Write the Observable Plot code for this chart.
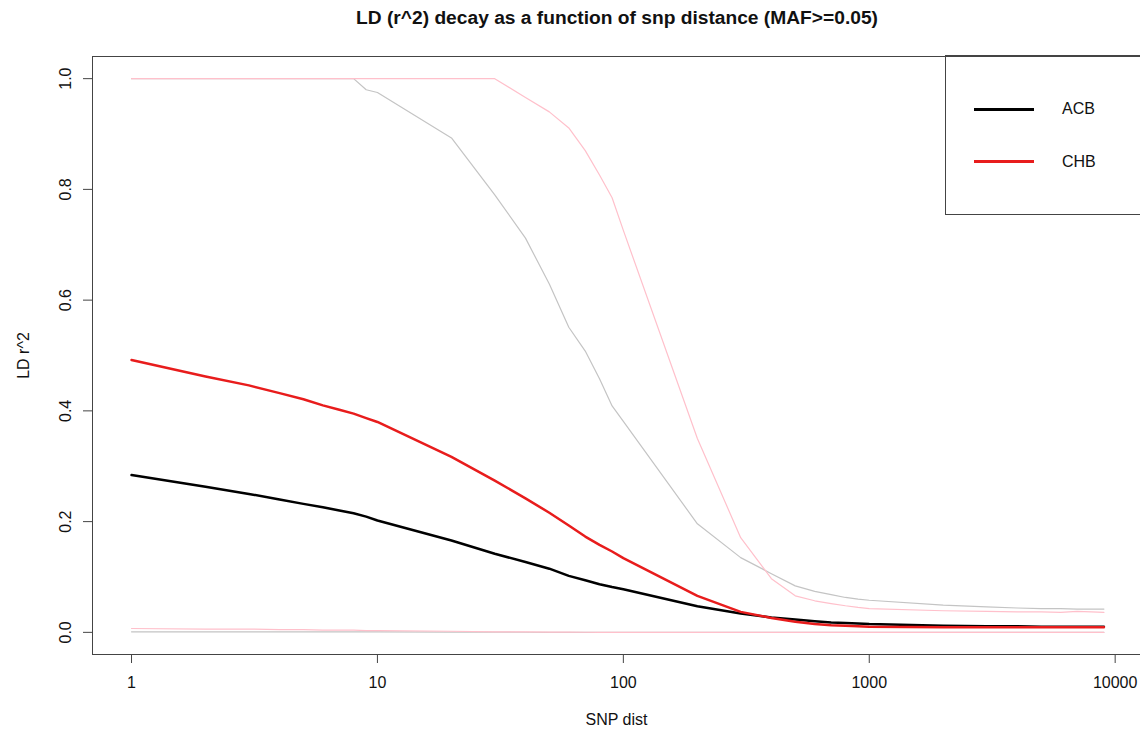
<!DOCTYPE html>
<html>
<head>
<meta charset="utf-8">
<script src="https://cdn.jsdelivr.net/npm/d3@7"></script>
<script src="https://cdn.jsdelivr.net/npm/@observablehq/plot@0.6"></script>
<style>
  html, body { margin: 0; padding: 0; background: #fff; overflow: hidden; }
  #wrap { position: relative; width: 1140px; height: 746px; font-family: "Liberation Sans", Arial, sans-serif; color: #111; }
  #title { position: absolute; top: 6px; left: 617px; transform: translateX(-50%); white-space: nowrap;
           font-weight: bold; font-size: 19.2px; line-height: 24px; color: #111; }
  #chart { position: absolute; top: 36px; left: 0; }
  #legend { position: absolute; left: 945px; top: 55px; width: 220px; height: 158px;
            border: 1px solid #444; box-sizing: content-box; }
  .sw { position: absolute; left: 28px; width: 60px; height: 3px; }
  .lab { position: absolute; left: 116px; font-size: 16px; line-height: 20px; color: #111; }
</style>
</head>
<body>
<div id="wrap">
  <div id="title">LD (r^2) decay as a function of snp distance (MAF&gt;=0.05)</div>
  <div id="chart"></div>
  <div id="legend"></div>
</div>
<script>
// SNP distances
const dist = [1,2,3,4,5,6,7,8,9,10,20,30,40,50,60,70,80,90,100,200,300,400,500,600,700,800,900,1000,2000,3000,4000,5000,6000,7000,8000,9000];
// ACB mean r^2
const acbMean = [0.284,0.263,0.250,0.240,0.232,0.226,0.220,0.215,0.209,0.202,0.166,0.142,0.127,0.115,0.102,0.094,0.087,0.082,0.078,0.047,0.034,0.027,0.023,0.020,0.018,0.017,0.016,0.015,0.012,0.011,0.011,0.010,0.010,0.010,0.010,0.010];
// CHB mean r^2
const chbMean = [0.492,0.462,0.446,0.432,0.421,0.410,0.402,0.395,0.387,0.380,0.317,0.274,0.242,0.216,0.193,0.173,0.158,0.146,0.134,0.066,0.037,0.026,0.019,0.015,0.013,0.012,0.011,0.010,0.009,0.009,0.009,0.009,0.009,0.009,0.009,0.009];
// ACB upper / lower bounds
const acbMax = [1,1,1,1,1,1,1,1,0.980,0.975,0.893,0.790,0.712,0.629,0.551,0.508,0.458,0.409,0.381,0.196,0.135,0.106,0.084,0.074,0.068,0.063,0.060,0.058,0.049,0.046,0.044,0.043,0.043,0.042,0.042,0.042];
const acbMin = [0.001,0.001,0.001,0.001,0.001,0.001,0.001,0.001,0.001,0.001,0.0005,0.0003,0.0002,0.0001,0,0,0,0,0,0,0,0,0,0,0,0,0,0,0,0,0,0,0,0,0,0];
// CHB upper / lower bounds
const chbMax = [1,1,1,1,1,1,1,1,1,1,1,1,0.966,0.940,0.911,0.870,0.826,0.785,0.726,0.350,0.171,0.097,0.066,0.057,0.052,0.048,0.045,0.043,0.039,0.038,0.037,0.037,0.036,0.038,0.037,0.036];
const chbMin = [0.007,0.006,0.006,0.005,0.005,0.004,0.004,0.004,0.003,0.003,0.002,0.001,0.001,0.0005,0.0003,0.0002,0.0001,0,0,0,0,0,0,0,0,0,0,0,0,0,0,0,0,0,0,0];
// axis ticks
const xTicks = [1,10,100,1000,10000];
const yTicks = [0,0.2,0.4,0.6,0.8,1.0];
const seriesNames = ["ACB","CHB"];
const seriesColors = ["#000000","#e81c1c"];

const xDomain = [Math.pow(10,-0.1587), Math.pow(10,4.1030)];
const yDomain = [-0.04, 1.04];

const ln = (arr, stroke, sw) => Plot.line(dist, {x: d => d, y: (d,i) => arr[i], stroke, strokeWidth: sw, curve: "linear"});

const chart = Plot.plot({
  width: 1140,
  height: 710,
  marginLeft: 92,
  marginRight: 0,
  marginTop: 20,
  marginBottom: 92,
  style: {fontFamily: '"Liberation Sans", Arial, sans-serif', fontSize: "16px", color: "#111", background: "#fff"},
  x: {type: "log", domain: xDomain, axis: null},
  y: {domain: yDomain, axis: null},
  marks: [
    Plot.axisX({ticks: xTicks, tickSize: 9, tickFormat: () => "", label: null, stroke: "#444"}),
    Plot.axisY({ticks: yTicks, tickSize: 9, tickFormat: () => "", label: null, stroke: "#444"}),
    Plot.ruleY([yDomain[0]], {stroke: "#444"}),
    Plot.ruleY([yDomain[1]], {stroke: "#444"}),
    Plot.ruleX([xDomain[0]], {stroke: "#444"}),
    Plot.text(xTicks, {x: d => d, frameAnchor: "bottom", dy: 28, text: d => String(d), lineAnchor: "middle", fill: "#111", fontSize: 16}),
    Plot.text(yTicks, {y: d => d, frameAnchor: "left", dx: -27, rotate: -90, text: d => d.toFixed(1), lineAnchor: "middle", textAnchor: "middle", fill: "#111", fontSize: 16}),
    Plot.text(["SNP dist"], {frameAnchor: "bottom", dy: 65, text: d => d, lineAnchor: "middle", fill: "#111", fontSize: 16}),
    Plot.text(["LD r^2"], {frameAnchor: "left", dx: -69, rotate: -90, text: d => d, lineAnchor: "middle", textAnchor: "middle", fill: "#111", fontSize: 16}),
    ln(acbMax, "#c4c4c4", 1.2),
    ln(acbMin, "#c4c4c4", 1.2),
    ln(chbMax, "#ffc0cb", 1.2),
    ln(chbMin, "#ffc0cb", 1.2),
    ln(acbMean, seriesColors[0], 2.5),
    ln(chbMean, seriesColors[1], 2.5)
  ]
});
document.getElementById("chart").appendChild(chart);

// legend (inside plot region, top right)
const leg = document.getElementById("legend");
seriesNames.forEach((name, i) => {
  const cy = 53 + i * 52.5;
  const sw = document.createElement("div");
  sw.className = "sw";
  sw.style.top = (cy - 1.5) + "px";
  sw.style.background = seriesColors[i];
  leg.appendChild(sw);
  const lb = document.createElement("div");
  lb.className = "lab";
  lb.style.top = (cy - 10) + "px";
  lb.textContent = name;
  leg.appendChild(lb);
});
</script>
</body>
</html>
